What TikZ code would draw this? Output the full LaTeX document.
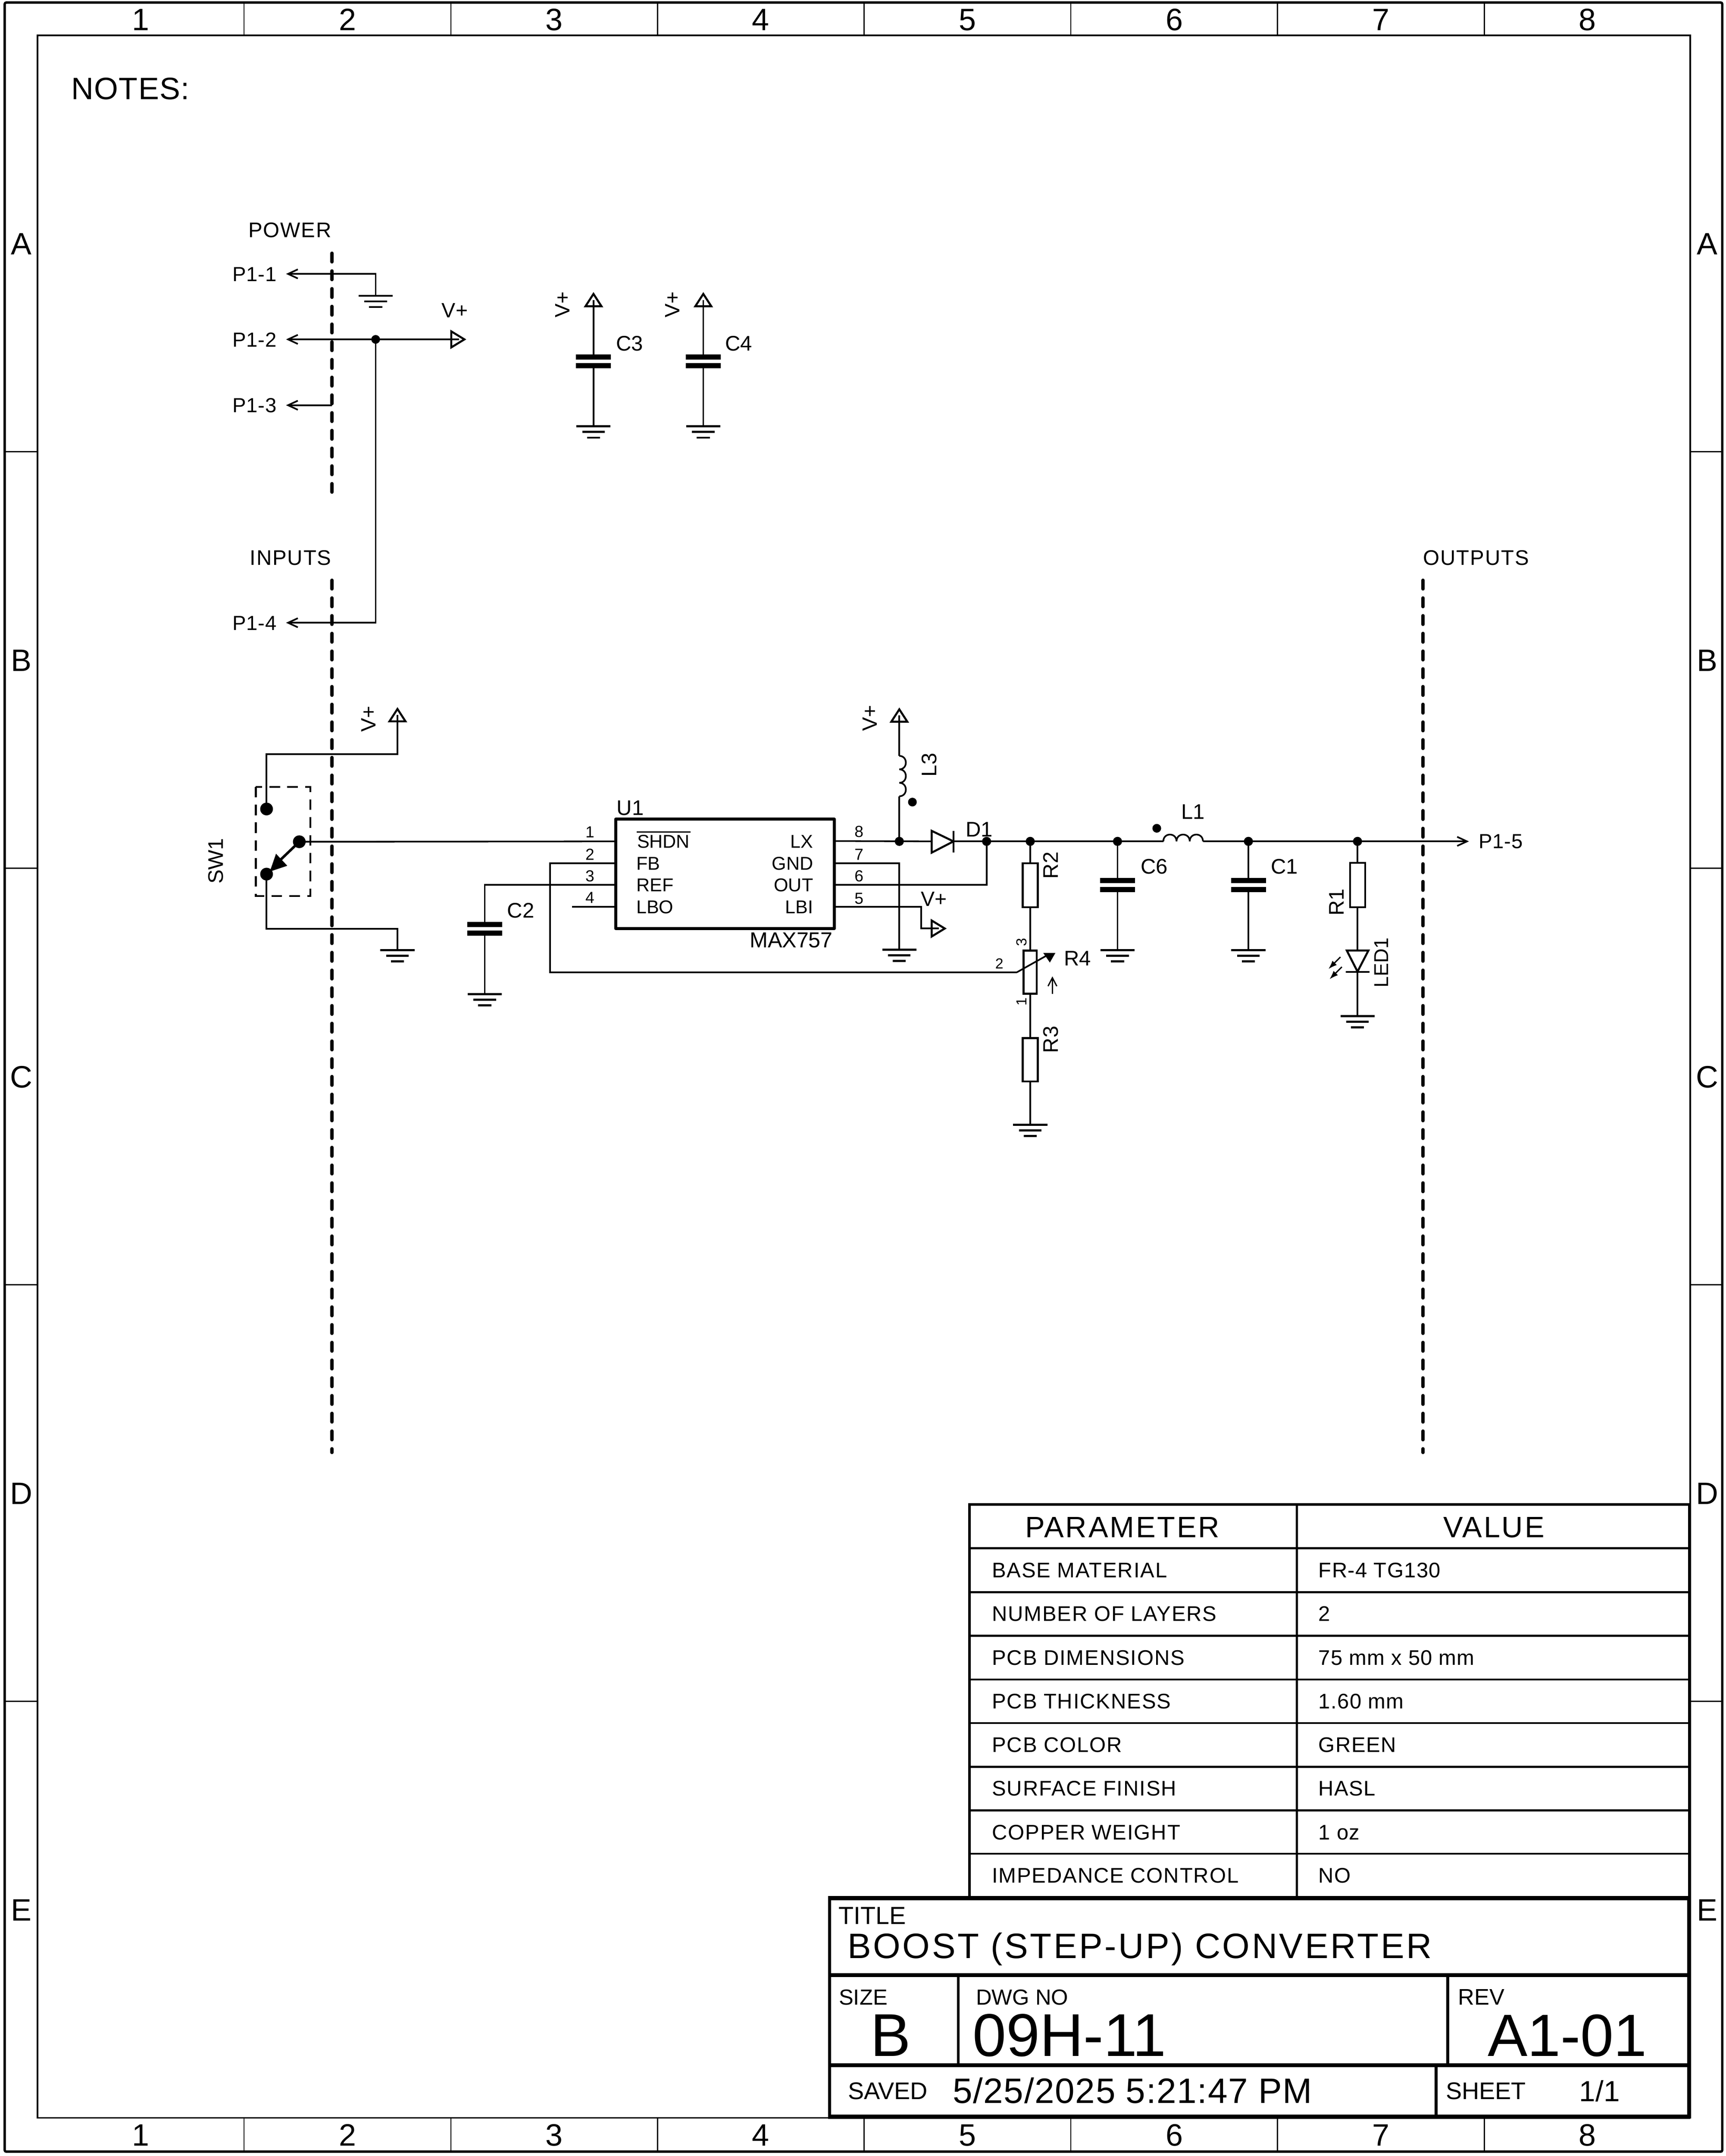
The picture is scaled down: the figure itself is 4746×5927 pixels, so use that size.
\documentclass[tikz,border=0pt]{standalone}
\usepackage{fontspec}
\setmainfont{Liberation Sans}
\newfontfamily\lsa[LetterSpace=3.8]{Liberation Sans}
\newfontfamily\lsb[LetterSpace=5.6]{Liberation Sans}
\newfontfamily\lsd[LetterSpace=2.0]{Liberation Sans}
\newfontfamily\lsv[LetterSpace=2.8]{Liberation Sans}
\usetikzlibrary{arrows.meta}
\newcommand\fpx[1]{\fontsize{\fpeval{#1*0.28453}pt}{\fpeval{#1*0.3}pt}\selectfont}
\tikzset{
  tbase/.style={inner sep=0pt,outer sep=0pt},
  txl/.style={tbase,anchor=base west,font=\fpx{#1}},
  txr/.style={tbase,anchor=base east,font=\fpx{#1}},
  txc/.style={tbase,anchor=base,font=\fpx{#1}},
  txv/.style={tbase,anchor=base west,rotate=90,font=\fpx{#1}},
  lsl/.style={tbase,anchor=base west,font=\lsa\fpx{#1}},
  lsr/.style={tbase,anchor=base east,font=\lsa\fpx{#1}},
  pnl/.style={tbase,anchor=base west,font=\lsd\fpx{56}},
  wire/.style={line width=0.045cm,line join=miter},
  part/.style={line width=0.055cm,line join=miter},
  bound/.style={line width=0.09cm,line cap=round,dash pattern=on 0.24cm off 0.247cm},
  pics/gnd/.style={code={
    \draw[line width=0.055cm] (-47,0) -- (47,0);
    \draw[line width=0.055cm] (-31,15.5) -- (31,15.5);
    \draw[line width=0.055cm] (-18,31) -- (18,31);}},
  pics/vup/.style={code={
    \draw[part] (0,0) -- (22,34) -- (-22,34) -- cycle;}},
  pics/vright/.style={code={
    \draw[part] (0,0) -- (-36,22) -- (-36,-22) -- cycle;}},
  pics/capv/.style={code={
    \fill (-48,-19) rectangle (48,-5);
    \fill (-48,5) rectangle (48,19);}},
  pics/vl/.style={code={
    \draw[wire] (27,-12.5) -- (0,0) -- (27,12.5);}},
  pics/vr/.style={code={
    \draw[wire] (-27,-12.5) -- (0,0) -- (-27,12.5);}},
}
\begin{document}
\begin{tikzpicture}[x=0.01cm,y=-0.01cm]
\useasboundingbox (0,0) rectangle (4746,5927);
% frames
\draw[line width=0.065cm,rounded corners=0.04cm] (13,7) rectangle (4736,5915);
\draw[line width=0.04cm] (103,97) rectangle (4648,5822);
\foreach \x in {671,1240,1808,2376,2944.5,3513,4082}{
  \draw[line width=0.03cm] (\x,7) -- (\x,97);
  \draw[line width=0.03cm] (\x,5822) -- (\x,5915);}
\foreach \y in {1242,2387,3532,4677}{
  \draw[line width=0.03cm] (13,\y) -- (103,\y);
  \draw[line width=0.03cm] (4648,\y) -- (4736,\y);}
\foreach \n/\x in {1/387,2/955.5,3/1524,4/2092,5/2660,6/3229,7/3797.5,8/4365}{
  \node[txc=85] (top\n) at (\x,84) {\n};
  \node[txc=85] (bot\n) at (\x,5899) {\n};}
\foreach \n/\y in {A/700.5,B/1845.5,C/2990.5,D/4135.5,E/5280.5}{
  \node[txc=85] (left\n) at (59,\y) {\n};
  \node[txc=85] (right\n) at (4695,\y) {\n};}
\node[tbase,anchor=base west,font=\lsd\fpx{85}] (notes) at (196,273) {NOTES:};

% boundary lines
\coordinate (bp1) at (913,696); \coordinate (bp2) at (913,1353);
\coordinate (bi1) at (913,1595); \coordinate (bi2) at (913,3993);
\coordinate (bo1) at (3913,1595); \coordinate (bo2) at (3913,3993);
\draw[bound] (bp1) -- (bp2);
\draw[bound] (bi1) -- (bi2);
\draw[bound] (bo1) -- (bo2);
\node[lsr=58] (tpower) at (911,653) {POWER};
\node[lsr=58] (tinputs) at (911,1553) {INPUTS};
\node[lsl=58] (toutputs) at (3914,1553) {OUTPUTS};

% power connector
\coordinate (p1) at (792,753); \coordinate (p1g) at (1033,813);
\coordinate (p2) at (792,933); \coordinate (j1) at (1033,933); \coordinate (vp) at (1277,933);
\coordinate (p3) at (792,1114); \coordinate (p3e) at (913,1114);
\coordinate (p4) at (792,1712);
\node[pnl] (tp1) at (639,774) {P1-1};
\node[pnl] (tp2) at (639,954) {P1-2};
\node[pnl] (tp3) at (639,1134) {P1-3};
\node[pnl] (tp4) at (639,1733) {P1-4};
\draw[wire] (p1) -| (p1g);
\pic at (p1) {vl};
\pic at (p1g) {gnd};
\draw[wire] (p2) -- (j1) -- (1262,933);
\pic at (p2) {vl};
\pic at (vp) {vright};
\node[txl=57] (tvp) at (1215,873) {V+};
\draw[wire] (p3) -- (p3e);
\pic at (p3) {vl};
\draw[wire] (j1) |- (p4);
\pic at (p4) {vl};
\fill (j1) circle[radius=12];

% C3, C4
\foreach \n/\x/\lx in {3/1632/1694,4/1934/1994}{
  \coordinate (c\n t) at (\x,825);
  \coordinate (c\n a) at (\x,808);
  \coordinate (c\n m) at (\x,993.5);
  \coordinate (c\n g) at (\x,1172);
  \draw[wire] (c\n t) -- (c\n g);
  \pic at (c\n a) {vup};
  \fill[white] (\x-48,986) rectangle (\x+48,1001);
  \pic at (c\n m) {capv};
  \pic at (c\n g) {gnd};
  \node[txv=57] (tvc\n) at (\x-65,873) {V+};
  \node[txl=58] (tc\n) at (\lx,964) {C\n};}

% switch
\draw[line width=0.05cm,dash pattern=on 0.29cm off 0.2cm] (703.5,2163) rectangle (853.5,2463);
\coordinate (sw1) at (733,2224); \coordinate (sw2) at (823,2314); \coordinate (sw3) at (733,2403);
\coordinate (vsw) at (1093,1949); \coordinate (gsw) at (1093,2612);
\draw[wire] (sw1) -- (733,2073) -- (1093,2073) -- (1093,1965);
\pic at (vsw) {vup};
\node[txv=57] (tvsw) at (1033,2012) {V+};
\draw[wire] (sw3) -- (733,2553) -- (1093,2553) -- (gsw);
\pic at (gsw) {gnd};
\fill (sw1) circle[radius=17.5];
\fill (sw2) circle[radius=17.5];
\fill (sw3) circle[radius=17.5];
\draw[line width=0.07cm] (sw2) -- (770,2365);
\fill (759,2347) -- (790,2380) -- (742,2396) -- cycle;
\node[txv=58] (tsw) at (613,2430) {SW1};

% U1
\coordinate (u1nw) at (1693,2252); \coordinate (u1se) at (2294,2552.5);
\draw[line width=0.085cm,line join=round] (u1nw) rectangle (u1se);
\node[txl=58] (tu1) at (1696,2241) {U1};
\node[txr=59.5] (tmax) at (2290,2605) {MAX757};
\node[txl=51] (tshdn) at (1752,2331) {SHDN};
\coordinate (ola) at (1751,2287); \coordinate (olb) at (1899,2287);
\draw[line width=0.035cm] (ola) -- (olb);
\node[txl=51] (tfb) at (1750,2392) {FB};
\node[txl=51] (tref) at (1750,2451) {REF};
\node[txl=51] (tlbo) at (1750,2511) {LBO};
\node[txr=51] (tlx) at (2236,2331) {LX};
\node[txr=51] (tgnd) at (2236,2392) {GND};
\node[txr=51] (tout) at (2236,2451) {OUT};
\node[txr=51] (tlbi) at (2236,2511) {LBI};
\foreach \n/\y in {1/2303,2/2364,3/2424,4/2483}{\node[txc=44] (pn\n) at (1622,\y) {\n};}
\foreach \n/\y in {8/2302,7/2364,6/2424,5/2485}{\node[txc=44] (pn\n) at (2362,\y) {\n};}

% left pins
\coordinate (pin1) at (1693,2313); \coordinate (pin2) at (1693,2373);
\coordinate (pin3) at (1693,2432); \coordinate (pin4) at (1693,2493);
\coordinate (wip) at (2796,2673); \coordinate (c2g) at (1333,2733); \coordinate (c2m) at (1333,2553.5);
\draw[wire] (sw2) -- (pin1);
\draw[wire] (pin2) -- (1513,2373) -- (1513,2673) -- (wip);
\draw[wire] (pin3) -- (1333,2432) -- (c2g);
\draw[wire] (pin4) -- (1573,2493);
\fill[white] (1285,2546) rectangle (1381,2561);
\pic at (c2m) {capv};
\pic at (c2g) {gnd};
\node[txl=58] (tc2) at (1395,2523) {C2};

% right pins
\coordinate (pin8) at (2294,2312); \coordinate (pin7) at (2294,2373);
\coordinate (pin6) at (2294,2432); \coordinate (pin5) at (2294,2493);
\coordinate (j2) at (2473,2313); \coordinate (j3) at (2713,2313);
\coordinate (j4) at (2833,2313); \coordinate (j5) at (3073,2313);
\coordinate (j6) at (3433,2313); \coordinate (j7) at (3733,2313);
\coordinate (da) at (2562,2313); \coordinate (dk) at (2622,2313);
\coordinate (l1a) at (3199,2313); \coordinate (l1b) at (3308,2313);
\coordinate (out5) at (4034,2313);
\coordinate (g7) at (2473,2611); \coordinate (v5) at (2598,2552.5);
\coordinate (l3b) at (2473,2189); \coordinate (l3t) at (2473,2078); \coordinate (v3) at (2473,1950);
\draw[wire] (pin8) -- (da);
\draw[part] (2562,2284) -- (2562,2344) -- (dk) -- cycle;
\draw[part] (2622,2284) -- (2622,2344);
\draw[wire] (dk) -- (l1a);
\draw[wire] (pin7) -| (g7);
\pic at (g7) {gnd};
\draw[wire] (pin6) -| (j3);
\draw[wire] (pin5) -- (2533,2493) -- (2533,2552.5) -- (2582,2552.5);
\pic at (v5) {vright};
\node[txl=57] (tv5) at (2533,2491) {V+};
\draw[wire] (j2) -- (l3b);
\draw[wire] (l3t) .. controls +(24,0) and +(24,0) .. ++(0,37) .. controls +(24,0) and +(24,0) .. ++(0,37) .. controls +(24,0) and +(24,0) .. ++(0,37);
\draw[wire] (l3t) -- (2473,1966);
\pic at (v3) {vup};
\node[txv=57] (tv3) at (2412,2010) {V+};
\node[txv=58] (tl3) at (2575,2135) {L3};
\fill (2509,2205) coordinate (dl3) circle[radius=12];
\node[txl=58] (td1) at (2656,2300) {D1};
\draw[wire] (l1a) .. controls +(0,-25) and +(0,-25) .. ++(36.3,0) .. controls +(0,-25) and +(0,-25) .. ++(36.3,0) .. controls +(0,-25) and +(0,-25) .. ++(36.4,0);
\draw[wire] (l1b) -- (out5);
\pic at (out5) {vr};
\fill (3181,2277) coordinate (dl1) circle[radius=12];
\node[txl=58] (tl1) at (3248,2252) {L1};
\node[pnl] (tp5) at (4066,2332) {P1-5};

% divider
\coordinate (r2t) at (2833,2373); \coordinate (r2b) at (2833,2494);
\coordinate (r4t) at (2833,2613); \coordinate (r4b) at (2833,2732);
\coordinate (r3t) at (2833,2853.5); \coordinate (r3b) at (2833,2973);
\coordinate (g3) at (2833,3092);
\draw[wire] (j4) -- (r2t);
\draw[wire] (r2b) -- (r4t);
\draw[wire] (r4b) -- (r3t);
\draw[wire] (r3b) -- (g3);
\draw[part] (2812,2373) rectangle (2854,2494);
\draw[part] (2815,2613) rectangle (2851,2732);
\draw[part] (2812,2853.5) rectangle (2854,2973);
\pic at (g3) {gnd};
\node[txv=58] (tr2) at (2910,2416) {R2};
\node[txv=58] (tr3) at (2910,2895) {R3};
\node[tbase,anchor=base,rotate=90,font=\fpx{40}] (pn3r) at (2823,2590) {3};
\node[tbase,anchor=base,rotate=90,font=\fpx{40}] (pn1r) at (2823,2754) {1};
\node[txc=40] (pn2r) at (2748,2663) {2};
\node[txl=58] (tr4) at (2926,2655) {R4};
\draw[wire] (wip) -- (2878,2627);
\fill (2869,2620) -- (2902,2620) -- (2887,2646) -- cycle;
\coordinate (au1) at (2894,2732); \coordinate (au2) at (2894,2688);
\draw[line width=0.035cm] (au1) -- (au2);
\draw[line width=0.035cm] (2882,2711) -- (au2) -- (2906,2711);

% C6, C1
\foreach \n/\x/\lx in {6/3073/3137,1/3433/3495}{
  \coordinate (c\n g) at (\x,2612);
  \coordinate (c\n m) at (\x,2433);
  \draw[wire] (\x,2313) -- (c\n g);
  \fill[white] (\x-48,2426) rectangle (\x+48,2441);
  \pic at (c\n m) {capv};
  \pic at (c\n g) {gnd};
  \node[txl=58] (tc\n) at (\lx,2402) {C\n};}

% R1, LED
\coordinate (r1t) at (3733,2372); \coordinate (r1b) at (3733,2494);
\coordinate (lt) at (3733,2613); \coordinate (lk) at (3733,2672); \coordinate (g1) at (3733,2793);
\draw[wire] (j7) -- (r1t);
\draw[wire] (r1b) -- (lt);
\draw[wire] (lk) -- (g1);
\draw[part] (3712.5,2372) rectangle (3754,2494);
\draw[part] (3703.5,2613) -- (3763,2613) -- (3733,2671) -- cycle;
\draw[part] (3701,2672) -- (3766,2672);
\pic at (g1) {gnd};
\node[txv=58] (tr1) at (3696,2517) {R1};
\node[txv=55] (tled) at (3817,2715) {LED1};
\coordinate (la1) at (3686,2631); \coordinate (la2) at (3653,2664);
\coordinate (lb1) at (3690,2658); \coordinate (lb2) at (3656,2692);
\draw[line width=0.035cm,-{Latex[length=0.24cm,width=0.17cm]}] (la1) -- (la2);
\draw[line width=0.035cm,-{Latex[length=0.24cm,width=0.17cm]}] (lb1) -- (lb2);

% junction dots
\foreach \j in {j2,j3,j4,j5,j6,j7}{\fill (\j) circle[radius=12.5];}

% parameter table
\draw[line width=0.07cm] (2666,5217) -- (2666,4136) -- (4646,4136) -- (4646,5217);
\draw[line width=0.055cm] (3566,4136) -- (3566,5217);
\foreach \y in {4256,4377,4497,4617,4737,4857,4977,5096}{
  \draw[line width=0.055cm] (2666,\y) -- (4646,\y);}
\node[tbase,anchor=base west,font=\lsb\fpx{81}] (hpar) at (2819,4227) {PARAMETER};
\node[tbase,anchor=base west,font=\lsb\fpx{81}] (hval) at (3969,4227) {VALUE};
\foreach \i/\y/\a/\b in {1/4337/BASE MATERIAL/FR-4 TG130,2/4457/NUMBER OF LAYERS/2,3/4577/PCB DIMENSIONS/75 mm x 50 mm,4/4697/PCB THICKNESS/1.60 mm,5/4817/PCB COLOR/GREEN,6/4937/SURFACE FINISH/HASL,7/5057/COPPER WEIGHT/1 oz,8/5176/IMPEDANCE CONTROL/NO}{
  \node[lsl=58] (pa\i) at (2728,\y) {\a};
  \node[tbase,anchor=base west,font=\lsv\fpx{58}] (va\i) at (3626,\y) {\b};}

% title block
\fill[white] (2281,5218) rectangle (4646,5819);
\foreach \y in {5218,5430,5677,5819}{
  \draw[line width=0.11cm] (2277,\y) -- (4648,\y);}
\draw[line width=0.08cm] (2281,5218) -- (2281,5819);
\draw[line width=0.08cm] (4644,5218) -- (4644,5819);
\draw[line width=0.08cm] (2635,5430) -- (2635,5677);
\draw[line width=0.08cm] (3981,5430) -- (3981,5677);
\draw[line width=0.08cm] (3949,5677) -- (3949,5819);
\node[txl=68] (ttitle) at (2306,5290) {TITLE};
\node[tbase,anchor=base west,font=\lsb\fpx{97}] (tname) at (2331,5383) {BOOST (STEP-UP) CONVERTER};
\node[txl=60] (tsize) at (2307,5511) {SIZE};
\node[txl=166] (tb) at (2394,5653) {B};
\node[txl=60] (tdwg) at (2684,5511) {DWG NO};
\node[txl=166] (tno) at (2675,5653) {09H-11};
\node[txl=62] (trev) at (4010,5511) {REV};
\node[txl=164] (trv) at (4091,5653) {A1-01};
\node[txl=66] (tsaved) at (2332,5771) {SAVED};
\node[tbase,anchor=base west,font=\lsd\fpx{97}] (tdate) at (2620,5782) {5/25/2025 5:21:47 PM};
\node[txl=66] (tsheet) at (3976,5771) {SHEET};
\node[txl=80] (tsh) at (4343,5777) {1/1};
\end{tikzpicture}
\end{document}
